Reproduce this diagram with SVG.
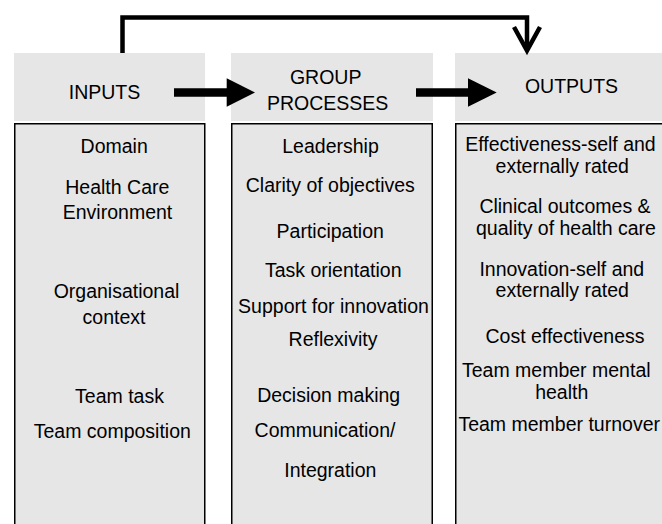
<svg xmlns="http://www.w3.org/2000/svg" width="662" height="524" viewBox="0 0 662 524">
  <style>
    .hdr { fill: #e6e6e6; }
    .body { fill: #e6e6e6; stroke: #000; stroke-width: 1.5; }
    text { font-family: "Liberation Sans", Arial, Helvetica, sans-serif; font-size: 19.5px; fill: #000; text-anchor: middle; }
    .thin { fill: none; stroke: #000; stroke-width: 4.5; }
    .thick { fill: none; stroke: #000; stroke-width: 8.5; }
    .head { fill: #000; }
  </style>
  <rect x="0" y="0" width="662" height="524" fill="#fff"/>

  <g id="inputs">
    <rect class="hdr" x="14" y="53" width="191" height="68"/>
    <rect class="body" x="14.75" y="123.75" width="190" height="420"/>
    <text x="104.5" y="99">INPUTS</text>
    <text x="114.2" y="153.3">Domain</text>
    <text x="117.3" y="194.3">Health Care</text>
    <text x="117.5" y="219.3">Environment</text>
    <text x="116.5" y="297.7">Organisational</text>
    <text x="114" y="323.5">context</text>
    <text x="119.5" y="402.7">Team task</text>
    <text x="112.3" y="438.3">Team composition</text>
  </g>

  <g id="group-processes">
    <rect class="hdr" x="231" y="53" width="202" height="68"/>
    <rect class="body" x="231.75" y="123.75" width="200.5" height="420"/>
    <text x="325.7" y="84.3">GROUP</text>
    <text x="327.7" y="110">PROCESSES</text>
    <text x="330.5" y="153.3">Leadership</text>
    <text x="330.3" y="191.7">Clarity of objectives</text>
    <text x="330.2" y="237.7">Participation</text>
    <text x="333.2" y="276.7">Task orientation</text>
    <text x="333.5" y="313.3">Support for innovation</text>
    <text x="333" y="346">Reflexivity</text>
    <text x="328.7" y="401.7">Decision making</text>
    <text x="325" y="436.7">Communication/</text>
    <text x="330.3" y="476.7">Integration</text>
  </g>

  <g id="outputs">
    <rect class="hdr" x="455" y="53" width="210" height="68"/>
    <rect class="body" x="455.75" y="123.75" width="220" height="420"/>
    <text x="571.5" y="92.7">OUTPUTS</text>
    <text x="560.5" y="151">Effectiveness-self and</text>
    <text x="562.2" y="173.3">externally rated</text>
    <text x="565" y="212.7">Clinical outcomes &amp;</text>
    <text x="566" y="235">quality of health care</text>
    <text x="561.8" y="275.7">Innovation-self and</text>
    <text x="562.2" y="296.7">externally rated</text>
    <text x="565" y="343.3">Cost effectiveness</text>
    <text x="556.3" y="376.7">Team member mental</text>
    <text x="561.7" y="399">health</text>
    <text x="559.2" y="431">Team member turnover</text>
  </g>

  <g id="connectors">
    <g id="feedback-inputs-outputs">
      <path class="thin" d="M122.5,53 V17.5 H527 V50" stroke-linejoin="miter"/>
      <path class="thin" d="M514,27 L527,50.5 L540,27" stroke-linejoin="miter"/>
    </g>
    <g id="inputs-to-processes">
      <line class="thick" x1="174" y1="92.5" x2="228" y2="92.5"/>
      <polygon class="head" points="226.7,78.3 255,92.5 226.7,106.7"/>
    </g>
    <g id="processes-to-outputs">
      <line class="thick" x1="416" y1="92.5" x2="469" y2="92.5"/>
      <polygon class="head" points="468,78.3 496.7,92.5 468,106.7"/>
    </g>
  </g>
</svg>
